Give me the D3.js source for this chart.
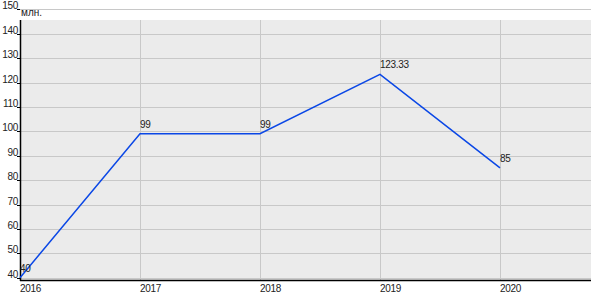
<!DOCTYPE html>
<html><head><meta charset="utf-8">
<script src="https://cdn.jsdelivr.net/npm/d3@7"></script>
<style>body{margin:0;background:#fff}svg{display:block;font-family:"Liberation Sans",Arial,sans-serif}</style>
</head><body><svg id="c" width="600" height="300"></svg>
<script>
const years = [2016, 2017, 2018, 2019, 2020];
const values = [40, 99, 99, 123.33, 85];
const valueLabels = ["40", "99", "99", "123.33", "85"];
const yTicks = [40, 50, 60, 70, 80, 90, 100, 110, 120, 130, 140, 150];
const unitLabel = "млн.";

const svg = d3.select("#c");
const x = d3.scaleLinear().domain([2016, 2020]).range([20, 500]);
const y = d3.scaleLinear().domain([40, 150]).range([277.7, 9.3]);
const plotLeft = 20, plotRight = 591, plotTop = 20, plotBottom = 280;

svg.append("rect").attr("x", plotLeft).attr("y", plotTop)
  .attr("width", plotRight - plotLeft).attr("height", plotBottom - plotTop).attr("fill", "#ebebeb");

// horizontal grid
svg.append("g").selectAll("line").data(yTicks).join("line")
  .attr("x1", plotLeft).attr("x2", plotRight)
  .attr("y1", d => Math.round(y(d)) + 0.5).attr("y2", d => Math.round(y(d)) + 0.5)
  .attr("stroke", "#c8c8c8").attr("stroke-width", 1);
// vertical grid
svg.append("g").selectAll("line").data(years.slice(1)).join("line")
  .attr("x1", d => Math.round(x(d)) + 0.5).attr("x2", d => Math.round(x(d)) + 0.5)
  .attr("y1", plotTop).attr("y2", plotBottom)
  .attr("stroke", "#c8c8c8").attr("stroke-width", 1);

// y axis ticks & labels
const yg = svg.append("g");
yg.selectAll("line").data(yTicks).join("line")
  .attr("x1", 17).attr("x2", plotLeft)
  .attr("y1", d => Math.round(y(d)) + 0.5).attr("y2", d => Math.round(y(d)) + 0.5)
  .attr("stroke", "#000");
yg.selectAll("text").data(yTicks).join("text")
  .attr("x", 18).attr("y", d => Math.round(y(d)))
  .attr("text-anchor", "end").attr("font-size", 10).attr("letter-spacing", -0.3).attr("fill", "#222")
  .text(d => d);
svg.append("line").attr("x1", plotLeft + 0.5).attr("x2", plotLeft + 0.5)
  .attr("y1", plotTop).attr("y2", plotBottom + 1).attr("stroke", "#000").attr("stroke-width", 1.5);
svg.append("line").attr("x1", plotLeft).attr("x2", plotRight)
  .attr("y1", plotBottom + 0.5).attr("y2", plotBottom + 0.5).attr("stroke", "#000").attr("stroke-width", 1.5);

svg.append("text").attr("x", 21).attr("y", 16).attr("font-size", 10).attr("fill", "#222").text(unitLabel);

// x labels
svg.append("g").selectAll("text").data(years).join("text")
  .attr("x", d => x(d)).attr("y", 292)
  .attr("font-size", 10).attr("letter-spacing", -0.3).attr("fill", "#222").text(d => d);

// line
const pts = years.map((d, i) => [d, values[i]]);
svg.append("path").datum(pts)
  .attr("d", d3.line().x(d => x(d[0])).y(d => y(d[1])))
  .attr("fill", "none").attr("stroke", "#0a47e6").attr("stroke-width", 1.5);

// value labels
svg.append("g").selectAll("text").data(pts).join("text")
  .attr("x", d => x(d[0])).attr("y", d => y(d[1]) - 6)
  .attr("font-size", 10).attr("letter-spacing", -0.3).attr("fill", "#222").text((d, i) => valueLabels[i]);
</script></body></html>
